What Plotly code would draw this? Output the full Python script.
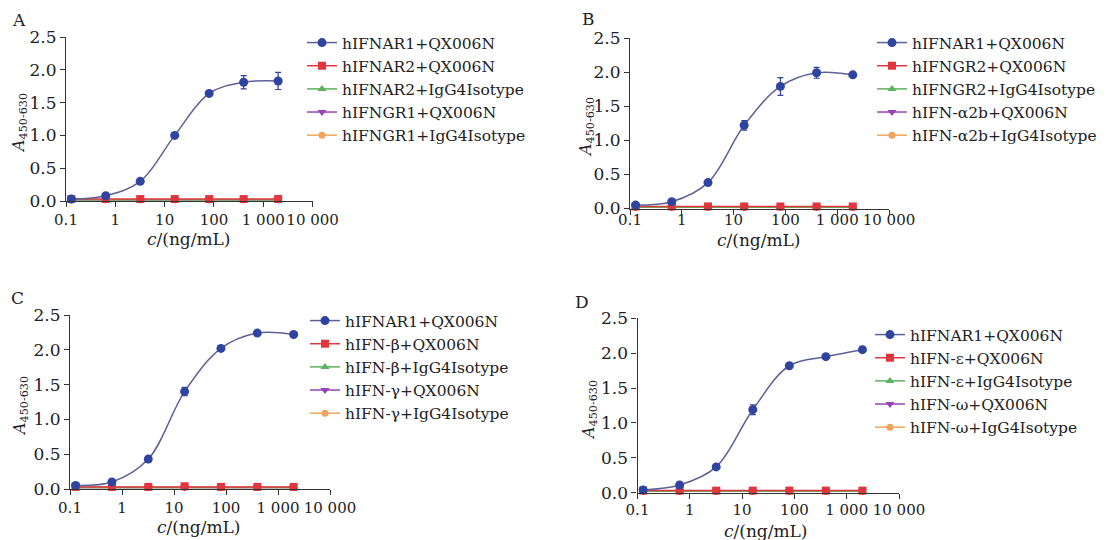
import plotly.graph_objects as go

# ---------------- data ----------------
conc = [0.128, 0.64, 3.2, 16, 80, 400, 2000]

x_tickvals = [0.1, 1, 10, 100, 1000, 10000]
x_ticktext = ["0.1", "1", "10", "100", "1 000", "10 000"]
y_tickvals = [0, 0.5, 1.0, 1.5, 2.0, 2.5]
y_ticktext = ["0.0", "0.5", "1.0", "1.5", "2.0", "2.5"]

# Panel A
a_names = ["hIFNAR1+QX006N", "hIFNAR2+QX006N", "hIFNAR2+IgG4Isotype",
           "hIFNGR1+QX006N", "hIFNGR1+IgG4Isotype"]
a_blue = [0.03, 0.08, 0.30, 1.00, 1.64, 1.81, 1.83]
a_blue_err = [0.01, 0.01, 0.02, 0.03, 0.03, 0.10, 0.13]
a_red = [0.03, 0.03, 0.03, 0.03, 0.03, 0.03, 0.03]
a_green = [0.02, 0.02, 0.02, 0.02, 0.02, 0.02, 0.02]
a_purple = [0.02, 0.02, 0.02, 0.02, 0.02, 0.02, 0.02]
a_orange = [0.02, 0.02, 0.02, 0.02, 0.02, 0.02, 0.02]

# Panel B
b_names = ["hIFNAR1+QX006N", "hIFNGR2+QX006N", "hIFNGR2+IgG4Isotype",
           "hIFN-α2b+QX006N", "hIFN-α2b+IgG4Isotype"]
b_blue = [0.05, 0.10, 0.38, 1.22, 1.79, 1.99, 1.96]
b_blue_err = [0.01, 0.02, 0.02, 0.07, 0.13, 0.08, 0.02]
b_red = [0.03, 0.03, 0.03, 0.03, 0.03, 0.03, 0.03]
b_green = [0.02, 0.02, 0.02, 0.02, 0.02, 0.02, 0.02]
b_purple = [0.02, 0.02, 0.02, 0.02, 0.02, 0.02, 0.02]
b_orange = [0.02, 0.02, 0.02, 0.02, 0.02, 0.02, 0.02]

# Panel C
c_names = ["hIFNAR1+QX006N", "hIFN-β+QX006N", "hIFN-β+IgG4Isotype",
           "hIFN-γ+QX006N", "hIFN-γ+IgG4Isotype"]
c_blue = [0.05, 0.10, 0.43, 1.40, 2.02, 2.24, 2.22]
c_blue_err = [0.01, 0.01, 0.02, 0.06, 0.03, 0.02, 0.02]
c_red = [0.03, 0.03, 0.03, 0.04, 0.03, 0.03, 0.03]
c_green = [0.02, 0.02, 0.02, 0.02, 0.02, 0.02, 0.02]
c_purple = [0.02, 0.02, 0.02, 0.02, 0.02, 0.02, 0.02]
c_orange = [0.02, 0.02, 0.02, 0.02, 0.02, 0.02, 0.02]

# Panel D
d_names = ["hIFNAR1+QX006N", "hIFN-ε+QX006N", "hIFN-ε+IgG4Isotype",
           "hIFN-ω+QX006N", "hIFN-ω+IgG4Isotype"]
d_blue = [0.04, 0.11, 0.37, 1.19, 1.82, 1.95, 2.05]
d_blue_err = [0.01, 0.02, 0.02, 0.07, 0.02, 0.03, 0.02]
d_red = [0.03, 0.03, 0.03, 0.03, 0.03, 0.03, 0.03]
d_green = [0.02, 0.02, 0.02, 0.02, 0.02, 0.02, 0.02]
d_purple = [0.02, 0.02, 0.02, 0.02, 0.02, 0.02, 0.02]
d_orange = [0.02, 0.02, 0.02, 0.02, 0.02, 0.02, 0.02]

panel_letters = ["A", "B", "C", "D"]
x_title = "<i>c</i>/(ng/mL)"
y_title = "<i>A</i><sub>450-630</sub>"

# ---------------- styling ----------------
OFF = 8                      # page body margin
W, H = 1108 - OFF, 540 - OFF
FONT = "DejaVu Serif, Liberation Serif, serif"
TXT = "#222222"
AXC = "#333333"
BLUE = "#2f43a0"
BLUE_LINE = "#5c6096"
RED = "#e2363e"
GREEN = "#5db35d"
PURPLE = "#9646b0"
ORANGE = "#f2a45c"


def px(x):
    return (x - OFF) / W


def py(y):
    return 1 - (y - OFF) / H


# screen-pixel boxes: (x0, x1, ytop, ybottom)
boxes = [(66, 312.6, 37, 201), (630, 889, 38, 208.5),
         (70, 330, 315, 489), (637.5, 899, 318.3, 492.7)]
xlabel_shift = [0, -8, 0, -2]
legend_pos = [(302, 26), (872, 26), (305, 304), (870, 318)]
letter_pos = [(19, 20), (588, 19), (17, 298), (582, 302)]
xtitle_pos = [(189, 239), (759, 240), (199, 527), (766, 531)]
ytitle_pos = [(20, 123), (586, 127), (20, 406), (589, 410)]

panels = [
    (a_names, a_blue, a_blue_err, a_red, a_green, a_purple, a_orange),
    (b_names, b_blue, b_blue_err, b_red, b_green, b_purple, b_orange),
    (c_names, c_blue, c_blue_err, c_red, c_green, c_purple, c_orange),
    (d_names, d_blue, d_blue_err, d_red, d_green, d_purple, d_orange),
]

fig = go.Figure()
annotations = []
layout = dict(
    width=W, height=H,
    margin=dict(l=0, r=0, t=0, b=0, autoexpand=False),
    paper_bgcolor="white", plot_bgcolor="white",
    font=dict(family=FONT, size=17, color=TXT),
    showlegend=True,
)

for i, (names, blue, blue_err, red, green, purple, orange) in enumerate(panels):
    n = i + 1
    xa = "x" if n == 1 else f"x{n}"
    ya = "y" if n == 1 else f"y{n}"
    lg = "legend" if n == 1 else f"legend{n}"
    x0, x1, yt, yb = boxes[i]

    flat = [
        (orange, names[4], ORANGE, "circle", 7, 5),
        (purple, names[3], PURPLE, "triangle-down", 8, 4),
        (green, names[2], GREEN, "triangle-up", 8, 3),
        (red, names[1], RED, "square", 8, 2),
    ]
    for vals, nm, col, sym, sz, rank in flat:
        fig.add_trace(go.Scatter(
            x=conc, y=vals, name=nm, mode="lines+markers",
            line=dict(color=col, width=1.5),
            marker=dict(color=col, symbol=sym, size=sz),
            xaxis=xa, yaxis=ya, legend=lg, legendrank=rank,
            cliponaxis=False,
        ))
    fig.add_trace(go.Scatter(
        x=conc, y=blue, name=names[0], mode="lines+markers",
        line=dict(color=BLUE_LINE, width=1.5, shape="spline", smoothing=1.0),
        marker=dict(color=BLUE, symbol="circle", size=9),
        error_y=dict(type="data", array=blue_err, visible=True,
                     color=BLUE, thickness=1.2, width=3),
        xaxis=xa, yaxis=ya, legend=lg, legendrank=1,
        cliponaxis=False,
    ))

    xkey = "xaxis" if n == 1 else f"xaxis{n}"
    ykey = "yaxis" if n == 1 else f"yaxis{n}"
    layout[xkey] = dict(
        domain=[px(x0), px(x1)], anchor=ya, type="log", range=[-1, 4],
        tickvals=x_tickvals, ticktext=x_ticktext, tickangle=0,
        ticklabelstandoff=xlabel_shift[i],
        showline=True, linecolor=AXC, linewidth=1.2,
        ticks="outside", ticklen=5, tickwidth=1.2, tickcolor=AXC,
        showgrid=False, zeroline=False, automargin=False,
        tickfont=dict(family=FONT, size=15, color=TXT),
    )
    layout[ykey] = dict(
        domain=[py(yb), py(yt)], anchor=xa, range=[0, 2.5],
        tickvals=y_tickvals, ticktext=y_ticktext,
        showline=True, linecolor=AXC, linewidth=1.2,
        ticks="outside", ticklen=5, tickwidth=1.2, tickcolor=AXC,
        showgrid=False, zeroline=False, automargin=False,
        tickfont=dict(family=FONT, size=17, color=TXT),
    )
    lx, ly = legend_pos[i]
    layout[lg] = dict(
        x=px(lx), y=py(ly), xanchor="left", yanchor="top",
        xref="paper", yref="paper",
        bgcolor="rgba(255,255,255,0)", borderwidth=0,
        font=dict(family=FONT, size=15.5, color=TXT),
        traceorder="normal", itemwidth=30,
    )
    lpx, lpy = letter_pos[i]
    annotations.append(dict(
        text=panel_letters[i], x=px(lpx), y=py(lpy), xref="paper", yref="paper",
        showarrow=False, xanchor="center", yanchor="middle",
        font=dict(family=FONT, size=17, color=TXT),
    ))
    tx, ty = xtitle_pos[i]
    annotations.append(dict(
        text=x_title, x=px(tx), y=py(ty), xref="paper", yref="paper",
        showarrow=False, xanchor="center", yanchor="middle",
        font=dict(family=FONT, size=17, color=TXT),
    ))
    vx, vy = ytitle_pos[i]
    annotations.append(dict(
        text=y_title, x=px(vx), y=py(vy), xref="paper", yref="paper",
        showarrow=False, xanchor="center", yanchor="middle", textangle=-90,
        font=dict(family=FONT, size=16, color=TXT),
    ))

layout["annotations"] = annotations
fig.update_layout(**layout)
fig.write_html("out.html")
